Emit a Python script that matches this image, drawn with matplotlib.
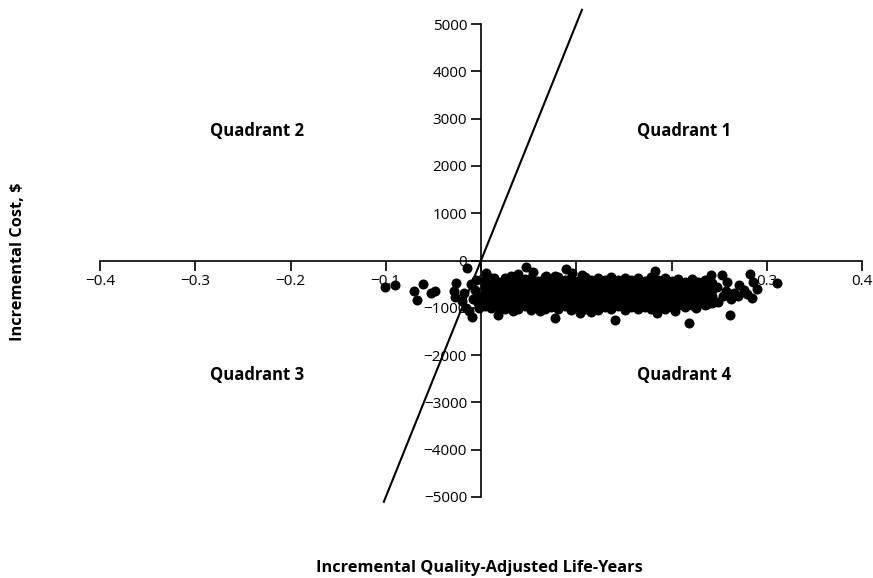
import matplotlib
matplotlib.use("Agg")
import matplotlib.pyplot as plt

plt.rcParams['font.family'] = ['Open Sans', 'DejaVu Sans']

# incremental QALYs and costs of the simulations
# left tail (negative QALY)
qaly_left = [-0.101, -0.090, -0.070, -0.061, -0.067, -0.052, -0.048, -0.015,
             -0.026, -0.028, -0.027, -0.018, -0.020, -0.016, -0.009, -0.010,
             -0.006, -0.013, -0.004, -0.003, -0.002, -0.005, -0.008]
cost_left = [-563, -525, -638, -497, -835, -680, -638, -159,
             -476, -652, -778, -687, -863, -1004, -1201, -497,
             -617, -1074, -760, -900, -1000, -420, -820]

# dense core, column by column
qaly_core = [0.004, 0.004, 0.004, 0.004, 0.004,
             0.011, 0.011, 0.011, 0.011, 0.011, 0.011,
             0.018, 0.018, 0.018, 0.018, 0.018,
             0.025, 0.025, 0.025, 0.025, 0.025, 0.025,
             0.032, 0.032, 0.032, 0.032, 0.032,
             0.039, 0.039, 0.039, 0.039, 0.039, 0.039,
             0.046, 0.046, 0.046, 0.046, 0.046,
             0.053, 0.053, 0.053, 0.053, 0.053, 0.053,
             0.060, 0.060, 0.060, 0.060, 0.060,
             0.067, 0.067, 0.067, 0.067, 0.067, 0.067,
             0.074, 0.074, 0.074, 0.074, 0.074,
             0.081, 0.081, 0.081, 0.081, 0.081, 0.081,
             0.088, 0.088, 0.088, 0.088, 0.088,
             0.095, 0.095, 0.095, 0.095, 0.095, 0.095,
             0.102, 0.102, 0.102, 0.102, 0.102,
             0.109, 0.109, 0.109, 0.109, 0.109, 0.109,
             0.116, 0.116, 0.116, 0.116, 0.116,
             0.123, 0.123, 0.123, 0.123, 0.123, 0.123,
             0.130, 0.130, 0.130, 0.130, 0.130,
             0.137, 0.137, 0.137, 0.137, 0.137, 0.137,
             0.144, 0.144, 0.144, 0.144, 0.144,
             0.151, 0.151, 0.151, 0.151, 0.151, 0.151,
             0.158, 0.158, 0.158, 0.158, 0.158,
             0.165, 0.165, 0.165, 0.165, 0.165, 0.165,
             0.172, 0.172, 0.172, 0.172, 0.172,
             0.179, 0.179, 0.179, 0.179, 0.179, 0.179,
             0.186, 0.186, 0.186, 0.186, 0.186,
             0.193, 0.193, 0.193, 0.193, 0.193, 0.193,
             0.200, 0.200, 0.200, 0.200, 0.200,
             0.207, 0.207, 0.207, 0.207, 0.207,
             0.214, 0.214, 0.214, 0.214, 0.214,
             0.221, 0.221, 0.221, 0.221, 0.221,
             0.228, 0.228, 0.228, 0.228,
             0.235, 0.235, 0.235, 0.235, 0.235,
             0.242, 0.242, 0.242, 0.242]
cost_core = [-420, -560, -700, -830, -960,
             -380, -500, -640, -780, -910, -1010,
             -450, -590, -720, -860, -990,
             -360, -510, -650, -790, -930, -1030,
             -420, -570, -700, -840, -980,
             -340, -480, -620, -760, -900, -1020,
             -400, -540, -690, -830, -960,
             -360, -500, -640, -780, -920, -1040,
             -430, -570, -710, -850, -990,
             -350, -490, -630, -770, -910, -1030,
             -410, -560, -700, -840, -980,
             -340, -480, -620, -760, -900, -1020,
             -420, -560, -690, -830, -970,
             -370, -500, -640, -780, -920, -1040,
             -430, -570, -710, -850, -990,
             -350, -490, -630, -770, -910, -1030,
             -410, -550, -690, -830, -970,
             -360, -500, -640, -780, -920, -1040,
             -420, -560, -700, -840, -980,
             -350, -490, -630, -770, -910, -1030,
             -410, -550, -690, -830, -970,
             -360, -500, -640, -780, -920, -1040,
             -420, -560, -700, -840, -980,
             -370, -510, -650, -790, -930, -1030,
             -430, -570, -710, -850, -990,
             -350, -490, -630, -770, -910, -1030,
             -410, -550, -690, -830, -970,
             -380, -520, -660, -800, -940, -1030,
             -440, -580, -720, -860, -990,
             -390, -530, -670, -810, -950,
             -450, -590, -730, -870, -990,
             -400, -540, -680, -820, -950,
             -460, -600, -740, -880,
             -420, -560, -700, -840, -950,
             -480, -620, -760, -900]

# scattered points round the edge of the cloud and the right tail
qaly_edge = [0.005, 0.047, 0.055, 0.039, 0.089, 0.096, 0.106, 0.183, 0.078, 0.068,
             0.032, 0.014, 0.018, 0.034, 0.062, 0.078, 0.104, 0.141, 0.218, 0.185,
             0.204, 0.116, 0.241, 0.253, 0.258, 0.271, 0.282, 0.286, 0.290, 0.311,
             0.284, 0.261, 0.248, 0.254, 0.266, 0.276, 0.237, 0.226, 0.262, 0.249,
             0.270, 0.279, 0.257]
cost_edge = [-264, -144, -250, -276, -173, -264, -313, -228, -330, -330,
             -330, -380, -1146, -1070, -1070, -1216, -1110, -1251, -1321, -1110,
             -1070, -1080, -300, -317, -459, -525, -285, -459, -600, -476,
             -793, -1146, -560, -740, -680, -620, -930, -1000, -820, -880,
             -760, -700, -640]

wtp_x = [-0.102, 0.106]
wtp_y = [-5100, 5300]   # $50,000 per QALY threshold

xticks = [-0.4, -0.3, -0.2, -0.1, 0, 0.1, 0.2, 0.3, 0.4]
xlabels = ['\u22120.4', '\u22120.3', '\u22120.2', '\u22120.1', '0', '0.1', '0.2', '0.3', '0.4']
yticks = [-5000, -4000, -3000, -2000, -1000, 0, 1000, 2000, 3000, 4000, 5000]
ylabels = ['\u22125000', '\u22124000', '\u22123000', '\u22122000', '\u22121000', '0',
           '1000', '2000', '3000', '4000', '5000']

fig = plt.figure(figsize=(8.73, 5.78), dpi=100)
ax = fig.add_axes([100 / 873, 1 - 497 / 578, 762 / 873, 473 / 578])

ax.plot(wtp_x, wtp_y, color='black', lw=1.5, clip_on=False, zorder=2)
ax.scatter(qaly_left + qaly_core + qaly_edge, cost_left + cost_core + cost_edge,
           s=52, color='black', linewidths=0, zorder=3, clip_on=False)

ax.set_xlim(-0.4, 0.4)
ax.set_ylim(-5000, 5000)
ax.spines['left'].set_position(('data', 0))
ax.spines['bottom'].set_position(('data', 0))
ax.spines['top'].set_visible(False)
ax.spines['right'].set_visible(False)
ax.spines['left'].set_linewidth(1.2)
ax.spines['bottom'].set_linewidth(1.2)
ax.set_xticks(xticks)
ax.set_xticklabels(xlabels)
ax.set_yticks(yticks)
ax.set_yticklabels(ylabels)
ax.tick_params(direction='out', length=7, width=1.2, labelsize=11, pad=3)

qfont = dict(fontsize=12, fontweight='bold', ha='center', va='center')
ax.text(-0.235, 2740, 'Quadrant 2', **qfont)
ax.text(0.213, 2740, 'Quadrant 1', **qfont)
ax.text(-0.235, -2420, 'Quadrant 3', **qfont)
ax.text(0.213, -2420, 'Quadrant 4', **qfont)

fig.text(18 / 873, 1 - 262 / 578, 'Incremental Cost, $', rotation=90,
         fontsize=11.8, fontweight='bold', ha='center', va='center')
fig.text(479 / 873, 1 - 568 / 578, 'Incremental Quality-Adjusted Life-Years',
         fontsize=11.8, fontweight='bold', ha='center', va='center')

fig.savefig('out.png', dpi=100)
